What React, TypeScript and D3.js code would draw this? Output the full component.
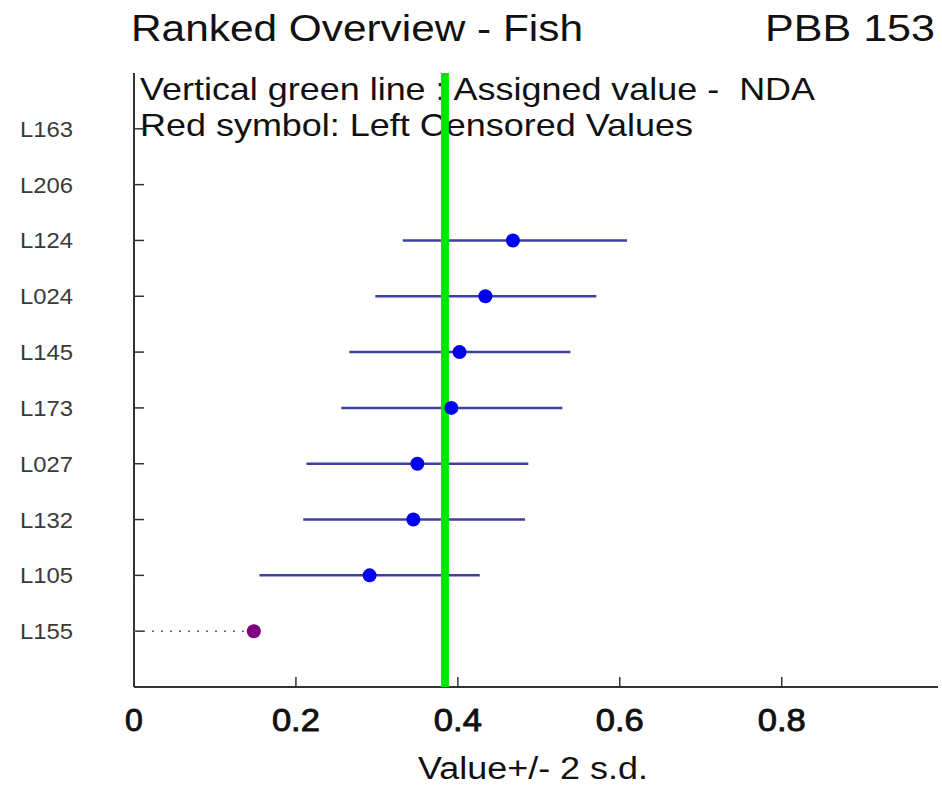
import React from "react";
import * as d3 from "d3";

const labs = ["L163", "L206", "L124", "L024", "L145", "L173", "L027", "L132", "L105", "L155"];
const values: (number | null)[] = [null, null, 0.468, 0.434, 0.402, 0.392, 0.350, 0.345, 0.291, 0.148];
const lows: (number | null)[] = [null, null, 0.332, 0.298, 0.266, 0.256, 0.213, 0.209, 0.155, null];
const highs: (number | null)[] = [null, null, 0.609, 0.571, 0.539, 0.529, 0.487, 0.483, 0.427, null];
const censored = [false, false, false, false, false, false, false, false, false, true];
const assigned = 0.384;
const xTicks = [0, 0.2, 0.4, 0.6, 0.8];
const xTickLabels = ["0", "0.2", "0.4", "0.6", "0.8"];

const W = 942;
const H = 785;
const FONT = "'Liberation Sans', Arial, sans-serif";

export default function App() {
  const x = d3.scaleLinear().domain([0, 0.993]).range([134, 938]);
  const y = d3.scalePoint<string>().domain(labs).range([73, 687]).padding(1);
  const top = 73;
  const bottom = 687;

  return (
    <svg
      width={W}
      height={H}
      viewBox={`0 0 ${W} ${H}`}
      style={{ position: "absolute", left: 0, top: 0, background: "#fff" }}
    >
      <rect x={0} y={0} width={W} height={H} fill="#fff" />
      {/* titles */}
      <text x={131} y={41} fontFamily={FONT} fontSize={36} fill="#111" textLength={452} lengthAdjust="spacingAndGlyphs">
        Ranked Overview - Fish
      </text>
      <text x={765} y={41} fontFamily={FONT} fontSize={36} fill="#111" textLength={170} lengthAdjust="spacingAndGlyphs">
        PBB 153
      </text>
      <text x={140} y={100} fontFamily={FONT} fontSize={32} fill="#111" textLength={675} lengthAdjust="spacingAndGlyphs" style={{ whiteSpace: "pre" }}>
        {"Vertical green line : Assigned value -  NDA"}
      </text>
      <text x={140} y={136} fontFamily={FONT} fontSize={32} fill="#111" textLength={553} lengthAdjust="spacingAndGlyphs">
        Red symbol: Left Censored Values
      </text>

      {/* axes */}
      <line x1={x(0)} x2={x(0)} y1={top} y2={bottom} stroke="#333" strokeWidth={2} />
      <line x1={x(0)} x2={x.range()[1]} y1={bottom} y2={bottom} stroke="#333" strokeWidth={2} />
      {labs.map((l) => (
        <g key={l}>
          <line x1={x(0)} x2={x(0) + 10} y1={y(l)} y2={y(l)} stroke="#333" strokeWidth={1.5} />
          <text
            x={20}
            y={(y(l) as number) + 8}
            fontFamily={FONT}
            fontSize={22}
            fill="#3a3a3a"
            textLength={53}
            lengthAdjust="spacingAndGlyphs"
          >
            {l}
          </text>
        </g>
      ))}
      {xTicks.map((t, i) => (
        <g key={t}>
          {t > 0 && <line x1={x(t)} x2={x(t)} y1={bottom} y2={bottom - 10} stroke="#333" strokeWidth={1.5} />}
          <text
            x={x(t)}
            y={731}
            fontFamily={FONT}
            fontSize={32}
            fill="#111"
            stroke="#111"
            strokeWidth={0.9}
            textAnchor="middle"
            textLength={t === 0 ? undefined : 48}
            lengthAdjust="spacingAndGlyphs"
          >
            {xTickLabels[i]}
          </text>
        </g>
      ))}
      <text x={533} y={779} fontFamily={FONT} fontSize={31} fill="#111" textAnchor="middle" textLength={230} lengthAdjust="spacingAndGlyphs">
        Value+/- 2 s.d.
      </text>

      {/* error bars */}
      {labs.map((l, i) => {
        const v = values[i];
        if (v == null) return null;
        const yy = y(l) as number;
        if (censored[i]) {
          return (
            <line key={l} x1={x(0)} x2={x(v)} y1={yy} y2={yy} stroke="#a0407a" strokeWidth={1.5} strokeDasharray="2 7" />
          );
        }
        return (
          <line key={l} x1={x(lows[i] as number)} x2={x(highs[i] as number)} y1={yy} y2={yy} stroke="#3f3fa3" strokeWidth={2.5} />
        );
      })}

      {/* assigned value line */}
      <line x1={x(assigned)} x2={x(assigned)} y1={top} y2={bottom} stroke="#00e600" strokeWidth={8} />

      {/* points */}
      {labs.map((l, i) => {
        const v = values[i];
        if (v == null) return null;
        return (
          <circle key={l} cx={x(v)} cy={y(l) as number} r={7} fill={censored[i] ? "#800080" : "#0000ee"} />
        );
      })}
    </svg>
  );
}
